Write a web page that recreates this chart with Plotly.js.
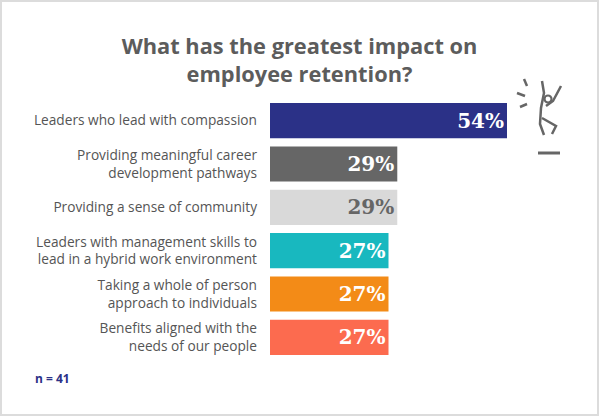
<!DOCTYPE html>
<html>
<head>
<meta charset="utf-8">
<script src="https://cdn.plot.ly/plotly-3.0.1.min.js"></script>
<style>
html,body{margin:0;padding:0;background:#fff;}
#wrap{position:relative;width:599px;height:416px;}
#chart{width:599px;height:416px;}
#frame{position:absolute;left:0;top:0;width:599px;height:416px;box-sizing:border-box;border:2px solid #dcdcdc;pointer-events:none;}
</style>
</head>
<body>
<div id="wrap"><div id="chart"></div><div id="frame"></div></div>
<script>
const categories = [
  "Leaders who lead with compassion",
  "Providing meaningful career<br>development pathways",
  "Providing a sense of community",
  "Leaders with management skills to<br>lead in a hybrid work environment",
  "Taking a whole of person<br>approach to individuals",
  "Benefits aligned with the<br>needs of our people"
];
const values = [54, 29, 29, 27, 27, 27];
const barColors = ["#2b3187", "#666666", "#d9d9d9", "#18b8bf", "#f38b17", "#fc6b4f"];
const labelColors = ["#ffffff", "#ffffff", "#666666", "#ffffff", "#ffffff", "#ffffff"];
const titleText = "What has the greatest impact on<br>employee retention?";
const noteText = "n = 41";

// plot area in pixels
const W = 599, H = 416;
const L = 270, R = 507, T = 99, B = 359;
const px = x => (x - L) / (R - L);
const py = y => (B - y) / (B - T);

function line(x0, y0, x1, y1, w) {
  return {type: "line", xref: "paper", yref: "paper", x0: px(x0), y0: py(y0), x1: px(x1), y1: py(y1),
          line: {color: "#666666", width: w || 2.5}};
}
function pathOf(pts) {
  return {type: "path", xref: "paper", yref: "paper",
          path: pts.map((p, i) => (i ? "L" : "M") + px(p[0]) + "," + py(p[1])).join(" "),
          line: {color: "#666666", width: 2.5}};
}
const shapes = [
  line(524, 79, 527, 86),
  line(517, 93, 525, 96),
  line(520, 107, 527, 104),
  {type: "circle", xref: "paper", yref: "paper", x0: px(544.5), x1: px(551.5), y0: py(95.5), y1: py(102.5),
   line: {color: "#666666", width: 2.2}},
  pathOf([[542, 81], [544, 93], [541, 108], [540, 124], [544, 135]]),
  pathOf([[561, 86], [553, 101], [546, 106]]),
  pathOf([[542, 118], [556, 126], [552, 134]]),
  line(538, 153, 560, 153, 3)
];

const data = [{
  type: "bar",
  orientation: "h",
  y: categories,
  x: values,
  marker: {color: barColors},
  text: values.map(v => v + "%"),
  textposition: "inside",
  insidetextanchor: "end",
  textangle: 0,
  textfont: {family: "DejaVu Serif, serif", size: 20, color: labelColors, weight: "bold"},
  hoverinfo: "skip",
  cliponaxis: false
}];

const layout = {
  width: W, height: H,
  margin: {l: L, r: W - R, t: T, b: H - B, pad: 0},
  paper_bgcolor: "#ffffff",
  plot_bgcolor: "#ffffff",
  showlegend: false,
  bargap: 0.19,
  title: {
    text: titleText,
    font: {family: "Open Sans, sans-serif", size: 21.8, color: "#5c5c5c", weight: "bold"},
    x: 0.5, xref: "container", xanchor: "center",
    y: 1 - 54 / H, yref: "container", yanchor: "middle"
  },
  xaxis: {range: [0, 54], visible: false, showgrid: false, zeroline: false, fixedrange: true},
  yaxis: {
    autorange: "reversed",
    showgrid: false, zeroline: false, showline: false,
    ticks: "", ticklabelstandoff: 12,
    tickfont: {family: "Open Sans, sans-serif", size: 13.7, color: "#555555"},
    fixedrange: true
  },
  shapes: shapes,
  annotations: [{
    text: noteText, xref: "paper", yref: "paper", x: px(33), y: py(378),
    xanchor: "left", yanchor: "middle", showarrow: false,
    font: {family: "Open Sans, sans-serif", size: 12, color: "#2b3187", weight: "bold"}
  }]
};

Plotly.newPlot("chart", data, layout, {displayModeBar: false, staticPlot: true});
</script>
</body>
</html>
